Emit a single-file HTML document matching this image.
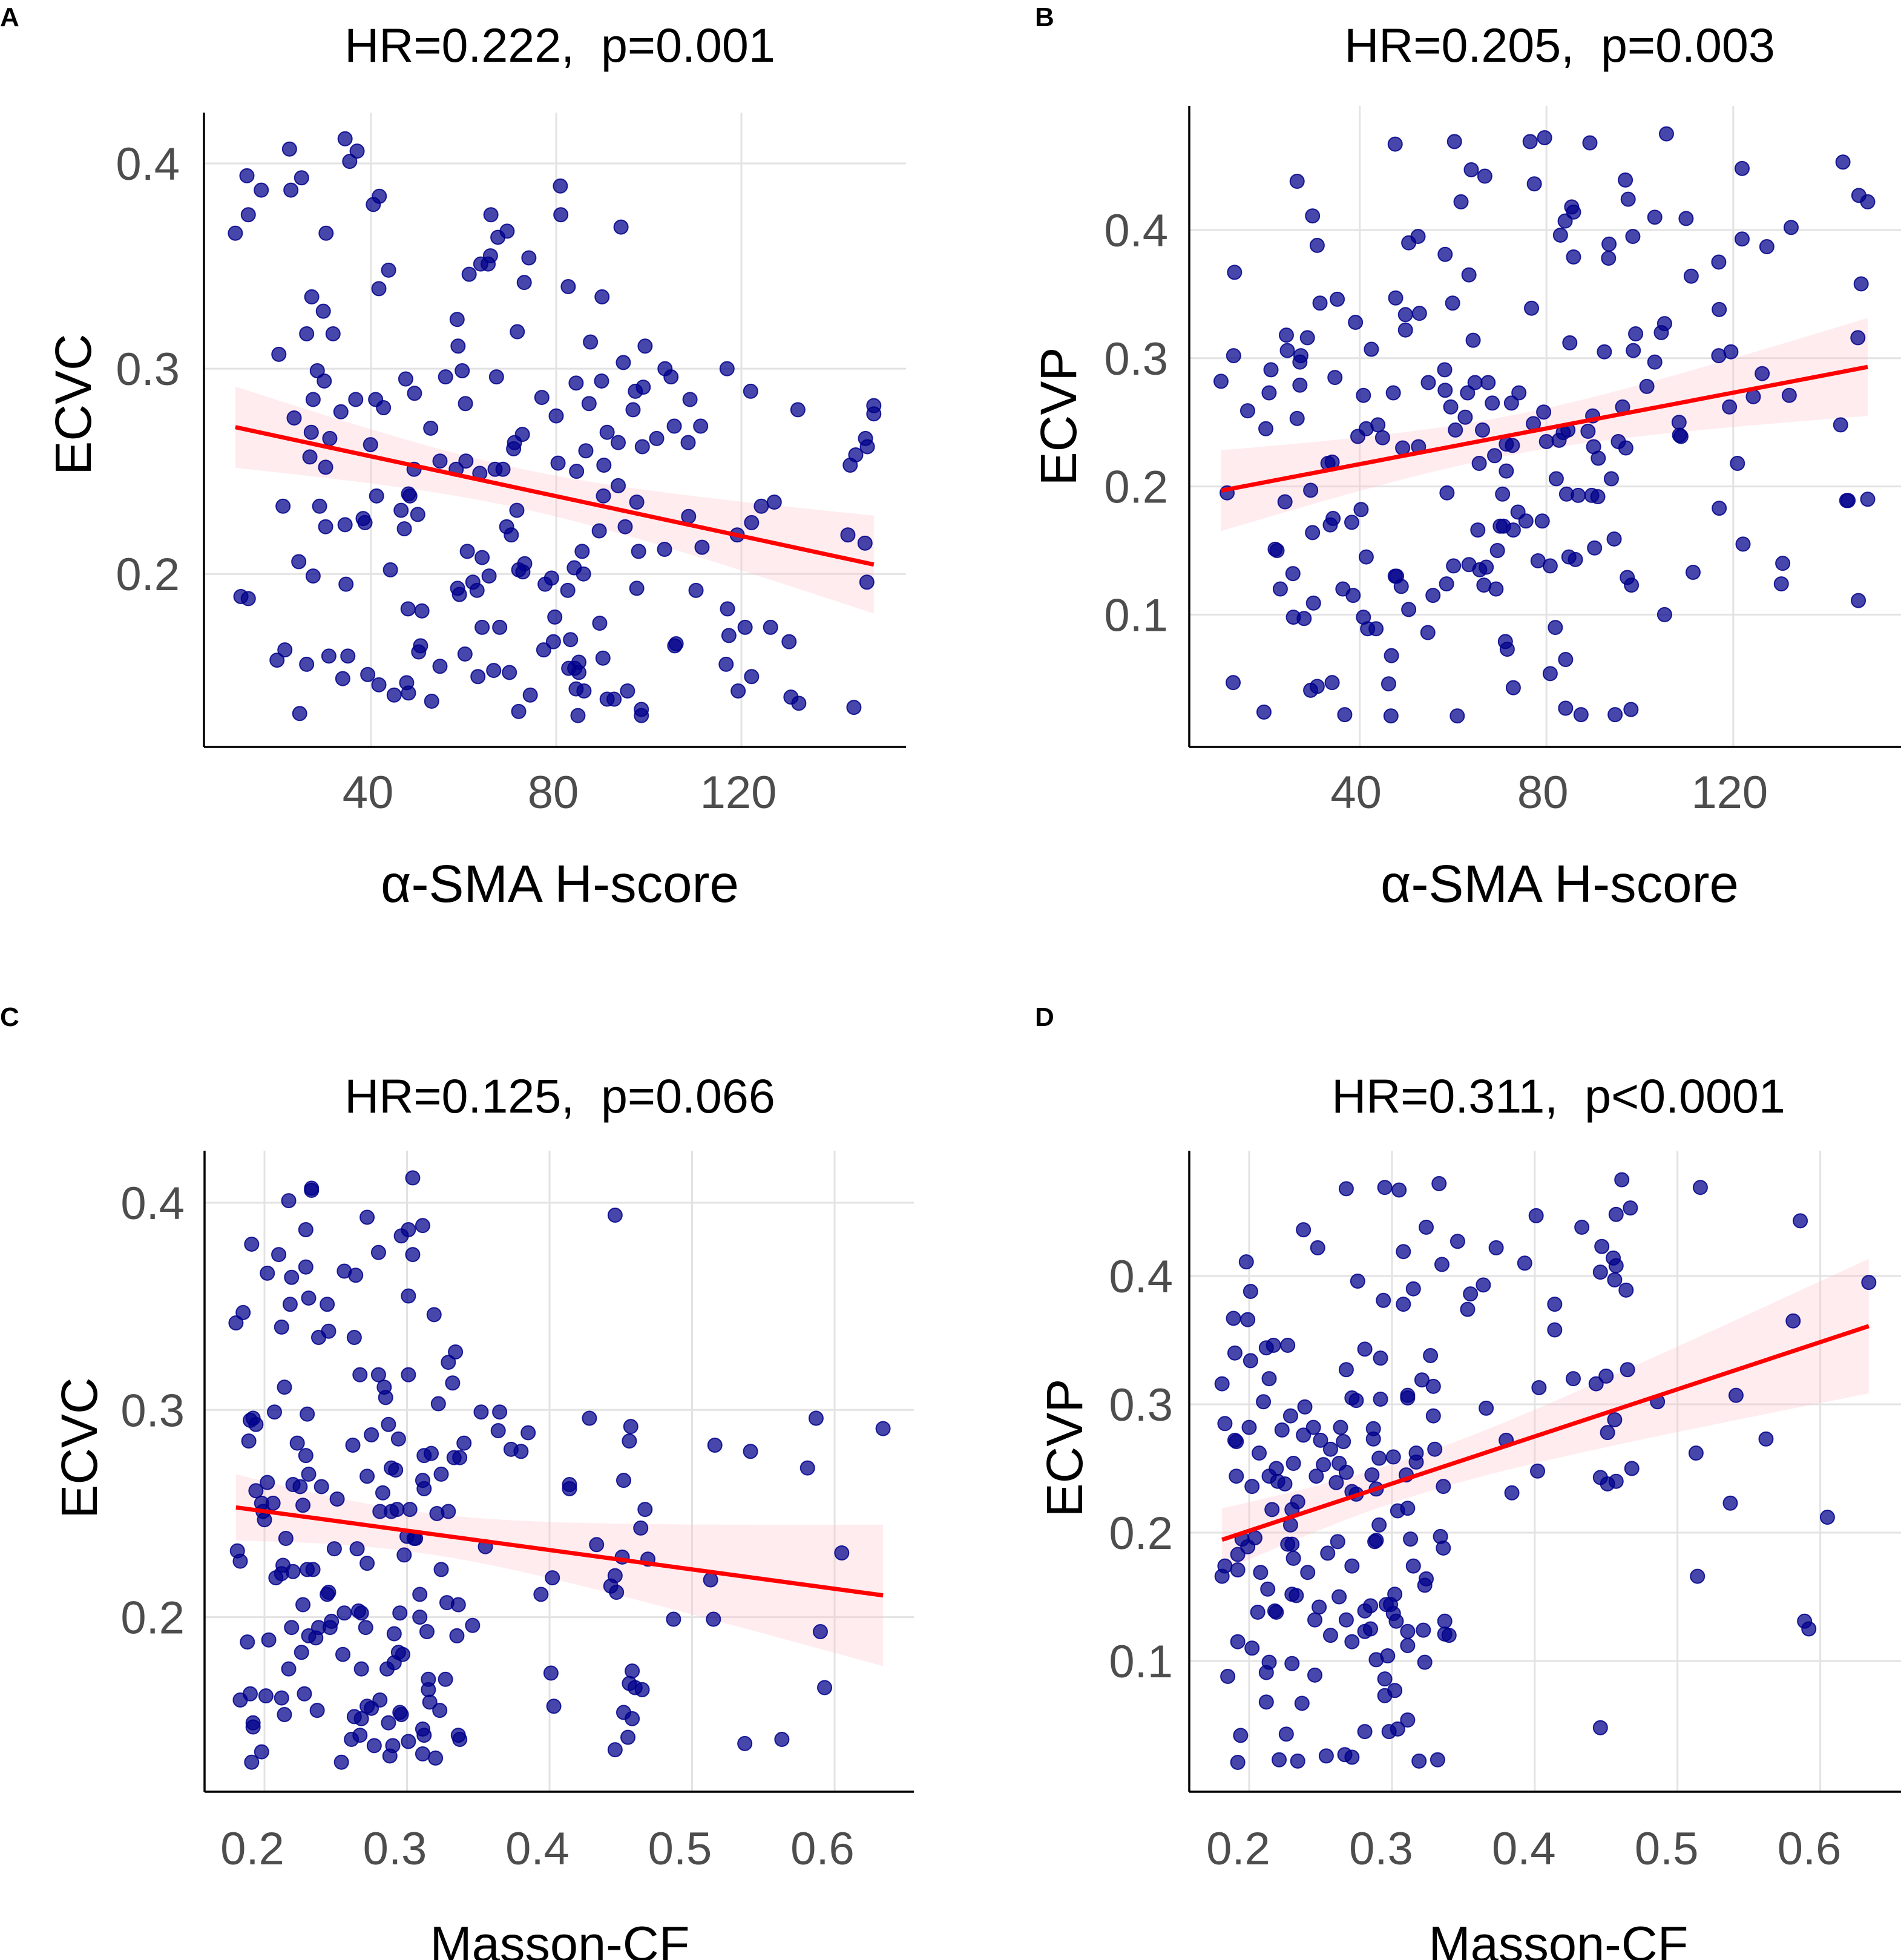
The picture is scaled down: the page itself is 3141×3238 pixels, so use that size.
<!DOCTYPE html>
<html><head><meta charset="utf-8">
<style>
html,body{margin:0;padding:0;background:#fff;}
svg{display:block;font-family:"Liberation Sans",Arial,sans-serif;}
</style></head>
<body>
<svg id="fig" width="3141" height="3238" viewBox="0 0 3141 3238" xmlns="http://www.w3.org/2000/svg"></svg>
<script>
// ---------- Panel A data (alpha-SMA H-score vs ECVC) ----------
const aX = [10.7,11.9,13.5,13.2,13.5,16.3,22.4,22.7,25.0,20.1,23.4,21.0,19.7,21.4,24.4,24.6,26.1,26.1,27.2,27.1,26.8,27.5,27.5,28.4,29.7,29.9,30.2,30.3,28.9,30.2,31.1,31.8,30.9,33.5,34.4,35.4,37.0,34.4,34.6,35.0,33.9,36.7,38.3,38.7,39.3,39.9,40.5,41.8,41.7,41.0,41.2,41.7,42.7,43.8,44.2,45.0,46.5,47.2,47.5,47.7,48.1,48.0,48.1,48.4,49.4,49.3,50.1,50.3,50.7,51.0,53.1,52.9,54.9,54.9,56.1,58.6,58.8,59.7,60.4,60.5,58.4,58.7,59.1,60.3,60.8,61.2,62.0,62.9,63.1,64.0,64.0,63.5,63.7,65.3,65.8,65.9,67.1,67.4,69.4,66.8,68.5,65.5,66.5,67.8,69.9,71.6,71.0,70.8,72.7,74.1,73.1,71.5,69.3,70.3,71.9,72.8,73.2,71.9,74.4,76.9,77.3,77.6,79.0,79.7,79.4,80.0,80.4,80.9,81.0,82.6,82.5,83.1,82.7,84.0,84.9,84.9,84.3,86.0,84.7,83.9,85.9,85.6,84.3,84.4,86.4,87.1,87.4,89.3,89.4,90.1,90.2,90.3,89.8,89.9,91.0,91.0,92.5,93.4,93.4,94.0,94.5,94.9,95.4,96.6,97.1,97.4,97.4,97.8,98.4,98.4,98.6,98.8,99.2,101.7,103.4,103.5,104.8,105.5,105.9,105.6,108.5,108.9,108.6,110.2,111.2,111.5,116.9,117.0,117.3,116.7,119.1,119.3,120.8,122.0,122.2,122.2,124.3,127.1,126.3,130.3,130.7,132.4,132.2,143.0,143.5,144.7,144.3,146.8,147.2,146.7,147.1,148.6,148.6];
const aY = [0.366,0.189,0.188,0.394,0.375,0.387,0.407,0.387,0.393,0.307,0.276,0.233,0.158,0.163,0.206,0.132,0.156,0.317,0.335,0.269,0.257,0.285,0.199,0.299,0.328,0.294,0.252,0.366,0.233,0.223,0.266,0.317,0.160,0.279,0.412,0.401,0.406,0.224,0.195,0.160,0.149,0.285,0.227,0.225,0.151,0.263,0.380,0.384,0.339,0.285,0.238,0.146,0.281,0.348,0.202,0.141,0.231,0.222,0.295,0.147,0.142,0.183,0.239,0.238,0.288,0.251,0.229,0.162,0.165,0.182,0.138,0.271,0.155,0.255,0.296,0.324,0.311,0.299,0.283,0.255,0.251,0.193,0.190,0.161,0.211,0.346,0.196,0.192,0.150,0.208,0.174,0.249,0.351,0.351,0.355,0.375,0.296,0.364,0.367,0.251,0.251,0.199,0.153,0.174,0.152,0.318,0.264,0.261,0.268,0.354,0.342,0.231,0.223,0.219,0.202,0.201,0.205,0.133,0.141,0.286,0.163,0.195,0.198,0.179,0.167,0.277,0.254,0.389,0.375,0.340,0.192,0.168,0.154,0.154,0.157,0.152,0.144,0.143,0.131,0.203,0.200,0.211,0.293,0.250,0.260,0.283,0.313,0.221,0.176,0.159,0.238,0.253,0.294,0.335,0.269,0.139,0.139,0.264,0.243,0.369,0.303,0.223,0.143,0.280,0.289,0.235,0.193,0.211,0.134,0.131,0.262,0.291,0.311,0.266,0.212,0.300,0.296,0.272,0.166,0.165,0.264,0.285,0.228,0.192,0.272,0.213,0.300,0.183,0.170,0.156,0.219,0.143,0.174,0.289,0.225,0.150,0.233,0.235,0.174,0.167,0.140,0.137,0.280,0.219,0.253,0.258,0.135,0.266,0.262,0.215,0.196,0.282,0.278];
const aXTicks = [40,80,120];
const aYTicks = [0.2,0.3,0.4];
const aYLabels = ["0.2","0.3","0.4"];

// ---------- Panel B data (alpha-SMA H-score vs ECVP) ----------
const bX = [10.3,11.6,13.2,13.0,12.9,16.0,19.5,19.9,20.6,21.0,21.9,22.3,23.0,24.0,24.3,24.5,25.7,25.8,26.6,26.6,27.2,27.4,27.2,28.1,28.8,29.5,29.5,29.9,30.1,29.9,30.9,30.9,31.5,33.2,33.7,34.1,34.3,34.1,34.7,35.2,36.4,36.8,38.3,38.6,39.1,39.6,40.3,40.8,40.8,41.4,41.4,41.7,42.5,43.5,43.9,44.9,46.2,46.7,46.8,47.2,47.6,47.6,47.9,47.7,48.9,49.2,49.8,49.8,50.5,50.5,52.5,52.6,52.8,54.6,54.7,55.7,58.3,58.2,58.3,58.7,58.6,59.5,59.9,60.3,60.5,60.1,60.9,61.7,62.6,63.1,63.4,63.4,63.9,64.3,64.7,65.3,65.6,65.7,66.3,66.6,66.8,67.1,67.5,68.4,68.9,69.2,69.5,70.1,70.6,70.8,71.4,71.2,71.6,71.4,72.5,72.7,72.9,72.9,73.9,74.1,75.6,76.5,76.8,77.2,77.4,78.2,79.1,79.6,79.4,80.0,80.8,80.8,81.9,82.1,82.7,83.0,83.6,84.0,84.1,84.1,84.3,84.6,84.8,85.0,85.4,85.8,85.8,86.2,86.8,87.4,88.9,89.3,89.7,89.9,90.1,90.3,91.0,91.1,92.4,93.3,93.4,93.9,94.5,94.7,95.4,96.3,96.9,97.0,97.3,97.5,98.1,98.2,98.5,98.6,99.1,101.5,103.2,103.2,104.6,105.3,105.3,105.7,108.4,108.5,108.8,109.9,111.0,111.4,116.9,117.0,116.9,117.0,119.2,119.5,120.9,121.9,122.1,121.9,124.3,126.2,127.2,130.6,130.3,132.0,132.4,143.0,143.5,144.3,144.6,146.7,146.9,146.8,147.4,148.8,148.8];
const bY = [0.282,0.195,0.367,0.302,0.047,0.259,0.024,0.245,0.273,0.291,0.151,0.150,0.120,0.188,0.318,0.306,0.132,0.098,0.438,0.253,0.297,0.302,0.279,0.097,0.316,0.197,0.041,0.411,0.109,0.164,0.388,0.044,0.343,0.218,0.170,0.219,0.175,0.047,0.285,0.346,0.120,0.022,0.172,0.115,0.328,0.239,0.182,0.271,0.098,0.145,0.245,0.089,0.307,0.089,0.248,0.238,0.046,0.021,0.068,0.273,0.467,0.130,0.130,0.347,0.122,0.230,0.334,0.322,0.390,0.104,0.395,0.231,0.335,0.086,0.281,0.115,0.381,0.291,0.275,0.195,0.124,0.262,0.343,0.469,0.244,0.138,0.021,0.422,0.254,0.273,0.139,0.365,0.447,0.314,0.281,0.166,0.218,0.135,0.244,0.123,0.442,0.137,0.281,0.265,0.224,0.120,0.150,0.169,0.194,0.169,0.212,0.079,0.073,0.233,0.265,0.232,0.166,0.043,0.180,0.273,0.173,0.469,0.339,0.249,0.436,0.142,0.173,0.472,0.258,0.235,0.138,0.054,0.090,0.206,0.236,0.396,0.242,0.407,0.065,0.027,0.194,0.244,0.145,0.312,0.418,0.414,0.379,0.143,0.193,0.022,0.243,0.468,0.193,0.255,0.231,0.152,0.192,0.222,0.305,0.378,0.389,0.206,0.159,0.022,0.235,0.262,0.439,0.230,0.129,0.424,0.026,0.123,0.395,0.306,0.319,0.278,0.297,0.410,0.320,0.327,0.100,0.475,0.250,0.240,0.239,0.409,0.364,0.133,0.375,0.338,0.302,0.183,0.262,0.305,0.218,0.448,0.155,0.393,0.270,0.288,0.387,0.140,0.124,0.271,0.402,0.248,0.453,0.189,0.189,0.316,0.427,0.111,0.358,0.422,0.190];
const bXTicks = [40,80,120];
const bYTicks = [0.1,0.2,0.3,0.4];
const bYLabels = ["0.1","0.2","0.3","0.4"];

// ---------- Panel C data (Masson-CF vs ECVC) ----------
const cX = [0.180,0.185,0.181,0.183,0.191,0.190,0.192,0.194,0.189,0.194,0.198,0.199,0.200,0.202,0.206,0.188,0.183,0.190,0.192,0.192,0.191,0.198,0.201,0.203,0.202,0.207,0.210,0.212,0.214,0.217,0.218,0.219,0.215,0.213,0.212,0.214,0.217,0.208,0.212,0.220,0.220,0.219,0.223,0.225,0.227,0.227,0.226,0.229,0.229,0.229,0.230,0.231,0.231,0.228,0.231,0.230,0.233,0.233,0.234,0.236,0.238,0.238,0.237,0.240,0.244,0.245,0.245,0.244,0.247,0.246,0.249,0.251,0.255,0.256,0.256,0.254,0.261,0.262,0.263,0.264,0.263,0.265,0.266,0.268,0.268,0.267,0.267,0.268,0.271,0.272,0.272,0.272,0.272,0.275,0.275,0.277,0.280,0.280,0.281,0.281,0.283,0.284,0.285,0.287,0.287,0.286,0.288,0.290,0.289,0.289,0.291,0.291,0.292,0.293,0.294,0.295,0.294,0.295,0.296,0.297,0.296,0.298,0.300,0.301,0.301,0.301,0.301,0.302,0.304,0.304,0.305,0.306,0.309,0.309,0.311,0.311,0.311,0.311,0.312,0.312,0.312,0.314,0.315,0.315,0.316,0.317,0.319,0.321,0.320,0.322,0.323,0.324,0.324,0.327,0.329,0.328,0.329,0.332,0.333,0.334,0.336,0.336,0.337,0.335,0.337,0.340,0.346,0.352,0.355,0.364,0.365,0.373,0.380,0.385,0.394,0.401,0.402,0.403,0.414,0.414,0.428,0.433,0.443,0.446,0.446,0.447,0.446,0.451,0.452,0.452,0.455,0.456,0.457,0.458,0.456,0.458,0.460,0.464,0.465,0.467,0.469,0.487,0.513,0.515,0.516,0.537,0.541,0.563,0.581,0.587,0.590,0.593,0.605,0.634];
const cY = [0.342,0.347,0.232,0.227,0.380,0.295,0.296,0.293,0.285,0.261,0.255,0.251,0.247,0.265,0.255,0.188,0.160,0.163,0.149,0.147,0.130,0.135,0.162,0.189,0.366,0.299,0.375,0.340,0.311,0.401,0.351,0.364,0.238,0.225,0.161,0.153,0.175,0.219,0.221,0.222,0.264,0.195,0.284,0.263,0.206,0.254,0.183,0.369,0.387,0.278,0.298,0.354,0.269,0.163,0.191,0.223,0.406,0.407,0.223,0.190,0.335,0.195,0.155,0.263,0.351,0.338,0.212,0.211,0.198,0.195,0.233,0.257,0.182,0.367,0.202,0.130,0.141,0.283,0.335,0.365,0.152,0.233,0.203,0.202,0.175,0.143,0.317,0.151,0.195,0.393,0.268,0.226,0.157,0.156,0.288,0.138,0.376,0.317,0.160,0.251,0.260,0.311,0.306,0.293,0.149,0.175,0.133,0.138,0.272,0.251,0.192,0.178,0.271,0.252,0.286,0.154,0.183,0.202,0.153,0.182,0.384,0.230,0.239,0.387,0.355,0.317,0.140,0.252,0.375,0.412,0.238,0.238,0.211,0.200,0.146,0.266,0.389,0.134,0.278,0.262,0.143,0.193,0.170,0.165,0.159,0.279,0.346,0.250,0.132,0.303,0.155,0.269,0.223,0.170,0.323,0.207,0.251,0.313,0.277,0.328,0.206,0.143,0.277,0.191,0.141,0.284,0.196,0.299,0.234,0.290,0.299,0.281,0.280,0.289,0.211,0.173,0.219,0.157,0.264,0.262,0.296,0.235,0.215,0.394,0.220,0.212,0.136,0.229,0.266,0.154,0.142,0.285,0.292,0.174,0.168,0.151,0.166,0.243,0.165,0.252,0.228,0.199,0.218,0.199,0.283,0.139,0.280,0.141,0.272,0.296,0.193,0.166,0.231,0.291];
const cXTicks = [0.2,0.3,0.4,0.5,0.6];
const cXLabels = ["0.2","0.3","0.4","0.5","0.6"];
const cYTicks = [0.2,0.3,0.4];
const cYLabels = ["0.2","0.3","0.4"];

// ---------- Panel D data (Masson-CF vs ECVP) ----------
const dX = [0.181,0.183,0.181,0.183,0.185,0.189,0.190,0.190,0.191,0.191,0.192,0.192,0.192,0.192,0.194,0.195,0.198,0.199,0.199,0.200,0.201,0.201,0.202,0.204,0.202,0.206,0.207,0.208,0.210,0.212,0.212,0.212,0.213,0.214,0.214,0.214,0.216,0.217,0.218,0.219,0.219,0.221,0.220,0.223,0.225,0.227,0.226,0.227,0.229,0.229,0.230,0.230,0.230,0.231,0.230,0.231,0.233,0.234,0.234,0.237,0.238,0.238,0.239,0.241,0.245,0.246,0.246,0.247,0.248,0.249,0.250,0.252,0.255,0.254,0.257,0.257,0.262,0.263,0.263,0.261,0.264,0.266,0.268,0.268,0.268,0.268,0.267,0.272,0.272,0.272,0.272,0.272,0.275,0.275,0.276,0.281,0.281,0.281,0.281,0.285,0.285,0.286,0.287,0.287,0.288,0.289,0.289,0.289,0.291,0.291,0.292,0.292,0.294,0.295,0.295,0.295,0.296,0.297,0.298,0.299,0.301,0.301,0.302,0.302,0.303,0.304,0.304,0.305,0.308,0.308,0.310,0.311,0.311,0.311,0.311,0.311,0.311,0.313,0.315,0.315,0.317,0.317,0.319,0.321,0.322,0.323,0.323,0.324,0.324,0.327,0.329,0.329,0.330,0.332,0.333,0.334,0.335,0.336,0.336,0.337,0.337,0.340,0.346,0.353,0.355,0.364,0.366,0.373,0.380,0.384,0.393,0.401,0.402,0.403,0.414,0.414,0.427,0.433,0.443,0.446,0.447,0.446,0.446,0.450,0.451,0.451,0.455,0.456,0.456,0.457,0.457,0.457,0.461,0.464,0.465,0.467,0.468,0.486,0.513,0.514,0.516,0.537,0.541,0.562,0.581,0.586,0.589,0.592,0.605,0.634];
const dY = [0.166,0.174,0.316,0.285,0.088,0.367,0.340,0.272,0.271,0.244,0.183,0.171,0.115,0.021,0.042,0.195,0.411,0.189,0.366,0.282,0.388,0.334,0.236,0.196,0.110,0.138,0.262,0.169,0.302,0.344,0.091,0.068,0.156,0.320,0.099,0.244,0.218,0.346,0.139,0.138,0.250,0.023,0.240,0.280,0.238,0.346,0.043,0.191,0.206,0.291,0.152,0.218,0.098,0.254,0.191,0.180,0.151,0.224,0.022,0.067,0.276,0.436,0.298,0.169,0.282,0.132,0.089,0.244,0.422,0.142,0.272,0.253,0.184,0.026,0.120,0.265,0.193,0.254,0.150,0.239,0.282,0.271,0.327,0.247,0.468,0.132,0.027,0.174,0.115,0.025,0.305,0.232,0.230,0.303,0.396,0.343,0.139,0.045,0.123,0.143,0.125,0.245,0.281,0.273,0.193,0.194,0.101,0.234,0.206,0.258,0.304,0.336,0.381,0.469,0.086,0.073,0.144,0.104,0.045,0.144,0.259,0.137,0.077,0.152,0.131,0.217,0.047,0.467,0.378,0.419,0.245,0.112,0.307,0.305,0.054,0.123,0.219,0.195,0.390,0.174,0.255,0.262,0.022,0.319,0.124,0.159,0.099,0.438,0.164,0.338,0.314,0.291,0.265,0.023,0.472,0.197,0.409,0.236,0.188,0.131,0.121,0.120,0.427,0.374,0.386,0.393,0.297,0.422,0.272,0.231,0.410,0.447,0.248,0.313,0.378,0.358,0.320,0.438,0.316,0.403,0.423,0.243,0.048,0.322,0.278,0.238,0.414,0.288,0.397,0.240,0.448,0.408,0.475,0.389,0.327,0.453,0.250,0.302,0.262,0.166,0.469,0.223,0.307,0.273,0.365,0.443,0.131,0.125,0.212,0.395];
const dXTicks = [0.2,0.3,0.4,0.5,0.6];
const dXLabels = ["0.2","0.3","0.4","0.5","0.6"];
const dYTicks = [0.1,0.2,0.3,0.4];
const dYLabels = ["0.1","0.2","0.3","0.4"];

const NS = "http://www.w3.org/2000/svg";
const svg = document.getElementById('fig');
function mk(tag, attrs, parent){
  const e = document.createElementNS(NS, tag);
  for (const k in attrs) e.setAttribute(k, attrs[k]);
  (parent||svg).appendChild(e);
  return e;
}

function panel(cfg){
  const g = mk('g', {});
  
  
  const sx = v => cfg.x0 + (v - cfg.xv0) * cfg.kx;
  const sy = v => cfg.y0 - (v - cfg.yv0) * cfg.ky;
  cfg.xTicks.forEach((t,i) => {
    const l = mk('line', {x1:sx(t), x2:sx(t), y1:cfg.top, y2:cfg.bottom, stroke:'#e3e3e3', 'stroke-width':3}, g);
    
    
    const tx = mk('text', {x:sx(t)+cfg.xLabOff, y:cfg.xLabY, 'font-size':76, fill:'#4d4d4d', 'text-anchor':'middle'}, g);
    tx.textContent = cfg.xLabels[i];
    
    
  });
  cfg.yTicks.forEach((t,i) => {
    const l = mk('line', {x1:cfg.left, x2:cfg.right, y1:sy(t), y2:sy(t), stroke:'#e3e3e3', 'stroke-width':3}, g);
    
    
    const tx = mk('text', {x:cfg.yLabX, y:sy(t)+27, 'font-size':76, fill:'#4d4d4d', 'text-anchor':'end'}, g);
    tx.textContent = cfg.yLabels[i];
    
    
  });
  const X = cfg.xs, Y = cfg.ys, n = X.length;
  let mx=0,my=0; for(let i=0;i<n;i++){mx+=X[i];my+=Y[i];} mx/=n; my/=n;
  let sxx=0,sxy=0; for(let i=0;i<n;i++){sxx+=(X[i]-mx)**2; sxy+=(X[i]-mx)*(Y[i]-my);}
  const b = sxy/sxx, a = my - b*mx;
  let sse=0; for(let i=0;i<n;i++){sse+=(Y[i]-a-b*X[i])**2;}
  const s = Math.sqrt(sse/(n-2));
  const xmin = Math.min(...X), xmax = Math.max(...X);
  const up=[], lo=[];
  for(let k=0;k<=60;k++){
    const xv = xmin + (xmax-xmin)*k/60;
    const se = s*Math.sqrt(1/n + (xv-mx)**2/sxx);
    const fv = a + b*xv;
    up.push(sx(xv)+','+sy(fv+1.97*se));
    lo.unshift(sx(xv)+','+sy(fv-1.97*se));
  }
  const band = mk('polygon', {points: up.concat(lo).join(' '), fill:'#ffc0cb', 'fill-opacity':0.3, stroke:'none'}, g);
  
  
  for(let i=0;i<n;i++){
    const c = mk('circle', {cx:sx(X[i]), cy:sy(Y[i]), r:11.5, fill:'#00008b', 'fill-opacity':0.72, stroke:'#00008b', 'stroke-width':2, 'stroke-opacity':0.85}, g);
    
    
  }
  const rl = mk('line', {x1:sx(xmin), y1:sy(a+b*xmin), x2:sx(xmax), y2:sy(a+b*xmax), stroke:'#ff0000', 'stroke-width':7}, g);
  
  
  const ax = mk('line', {x1:cfg.left, x2:cfg.right, y1:cfg.bottom, y2:cfg.bottom, stroke:'#000', 'stroke-width':3.5}, g);
  
  
  const ay = mk('line', {x1:cfg.left, x2:cfg.left, y1:cfg.top, y2:cfg.bottom, stroke:'#000', 'stroke-width':3.5}, g);
  
  
  const tt = mk('text', {x:cfg.titleX, y:cfg.titleY, 'font-size':79, fill:'#000', 'text-anchor':'middle', style:'white-space:pre'}, g);
  tt.textContent = cfg.title;
  
  
  const xt = mk('text', {x:cfg.titleX, y:cfg.xTitleY, 'font-size':cfg.xTitleSize, fill:'#000', 'text-anchor':'middle'}, g);
  xt.textContent = cfg.xTitle;
  
  
  const yt = mk('text', {x:0, y:0, 'font-size':84, fill:'#000', 'text-anchor':'middle', transform:'translate('+cfg.yTitleX+','+cfg.yTitleY+') rotate(-90)'}, g);
  yt.textContent = cfg.yTitle;
  
  
  const pl = mk('text', {x:cfg.letterX, y:cfg.letterY, 'font-size':44, 'font-weight':'bold', fill:'#000'}, g);
  pl.textContent = cfg.letter;
  
  
}

panel({id:'a', xs:aX, ys:aY, xTicks:aXTicks, xLabels:aXTicks.map(String), yTicks:aYTicks, yLabels:aYLabels,
  x0:307, xv0:0, kx:7.65, y0:270, yv0:0.4, ky:3391, left:337, right:1497, top:186, bottom:1234,
  xLabY:1335, xLabOff:-5, yLabX:297, title:'HR=0.222,  p=0.001', titleX:925, titleY:102,
  xTitle:'α-SMA H-score', xTitleSize:87, xTitleY:1490, yTitle:'ECVC', yTitleX:150, yTitleY:668, letter:'A', letterX:0, letterY:43});
panel({id:'b', xs:bX, ys:bY, xTicks:bXTicks, xLabels:bXTicks.map(String), yTicks:bYTicks, yLabels:bYLabels,
  x0:1938, xv0:0, kx:7.715, y0:380, yv0:0.4, ky:2118, left:1965, right:3141, top:175, bottom:1234,
  xLabY:1335, xLabOff:-6, yLabX:1930, title:'HR=0.205,  p=0.003', titleX:2577, titleY:102,
  xTitle:'α-SMA H-score', xTitleSize:87, xTitleY:1490, yTitle:'ECVP', yTitleX:1778, yTitleY:688, letter:'B', letterX:1710, letterY:43});
panel({id:'c', xs:cX, ys:cY, xTicks:cXTicks, xLabels:cXLabels, yTicks:cYTicks, yLabels:cYLabels,
  x0:437, xv0:0.2, kx:2355, y0:1987, yv0:0.4, ky:3423, left:338, right:1510, top:1901, bottom:2960,
  xLabY:3080, xLabOff:-20, yLabX:305, title:'HR=0.125,  p=0.066', titleX:925, titleY:1838,
  xTitle:'Masson-CF', xTitleSize:83, xTitleY:3240, yTitle:'ECVC', yTitleX:160, yTitleY:2392, letter:'C', letterX:0, letterY:1695});
panel({id:'d', xs:dX, ys:dY, xTicks:dXTicks, xLabels:dXLabels, yTicks:dYTicks, yLabels:dYLabels,
  x0:2064, xv0:0.2, kx:2359, y0:2108, yv0:0.4, ky:2120, left:1965, right:3141, top:1901, bottom:2960,
  xLabY:3080, xLabOff:-18, yLabX:1938, title:'HR=0.311,  p<0.0001', titleX:2575, titleY:1838,
  xTitle:'Masson-CF', xTitleSize:83, xTitleY:3240, yTitle:'ECVP', yTitleX:1788, yTitleY:2392, letter:'D', letterX:1710, letterY:1695});
</script>
</body></html>
